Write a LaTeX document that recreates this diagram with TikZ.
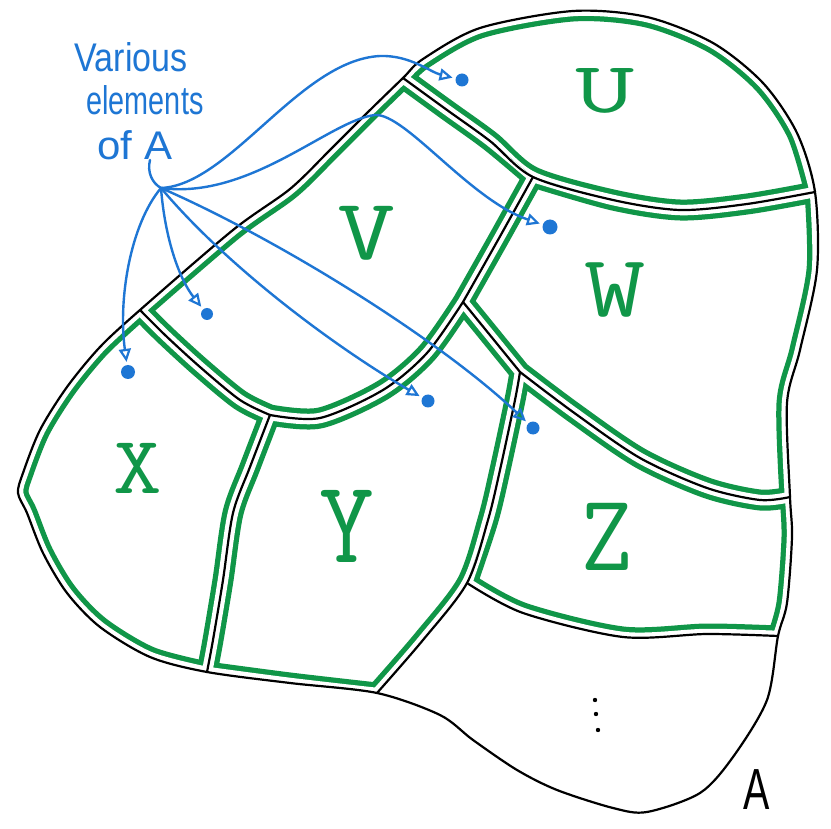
\documentclass[tikz,border=0pt]{standalone}
\usepackage{fontspec}
\newfontfamily\handfont{Liberation Sans}
\usetikzlibrary{arrows.meta}
\definecolor{mkgreen}{RGB}{16,150,72}
\definecolor{mkblue}{RGB}{30,118,212}
\begin{document}
\begin{tikzpicture}[x=1pt,y=-1pt,
  edge/.style={line width=2.2pt, black, line join=round, line cap=round},
  gband/.style={draw=mkgreen, line width=21pt, line join=round},
  wband/.style={draw=white, line width=10.5pt, line join=round},
  elem/.style={circle, fill=mkblue, inner sep=0pt, minimum size=13pt},
  arr/.style={mkblue, line width=2.4pt, -{Triangle[open, length=13pt, width=12pt, line width=2.2pt]}, shorten >=3pt},
  letter/.style={text=mkgreen, inner sep=0pt},
  hand/.style={text=mkblue, inner sep=0pt, font=\handfont\fontsize{40}{40}\selectfont},
]
\useasboundingbox (0,0) rectangle (831,829);
\fill[white] (0,0) rectangle (831,829);

% ---------- regions ----------
\def\regU{plot[smooth] coordinates {(403,78) (423,59) (480,28) (573,11) (647,17) (713,43) (763,83) (797,133) (815,192)}
  -- plot[smooth] coordinates {(815,192) (747,204) (680,210) (613,200) (533,177) (490,141) (447,110) (403,78)} -- cycle}
\def\regV{plot[smooth] coordinates {(140,310) (233,230) (290,189) (330,150) (367,113) (403,78)}
  -- plot[smooth] coordinates {(403,78) (447,110) (490,141) (533,177)}
  -- plot[smooth] coordinates {(533,177) (498,240) (463,302)}
  -- plot[smooth] coordinates {(463,302) (427,353) (383,390) (320,418) (270,415)}
  -- plot[smooth] coordinates {(270,415) (240,400) (200,367) (165,335) (140,310)} -- cycle}
\def\regW{plot[smooth] coordinates {(533,177) (613,200) (680,210) (747,204) (815,192)}
  -- plot[smooth] coordinates {(815,192) (817,270) (800,350) (787,403) (790,497)}
  -- plot[smooth] coordinates {(790,497) (760,500) (707,488) (640,458) (573,412) (520,372)}
  -- (463,302)
  -- plot[smooth] coordinates {(463,302) (498,240) (533,177)} -- cycle}
\def\regX{plot[smooth] coordinates {(140,310) (165,335) (200,367) (240,400) (270,415)}
  -- plot[smooth] coordinates {(270,415) (250,467) (233,513) (223,580) (213,640) (207,672)}
  -- plot[smooth] coordinates {(207,672) (150,657) (100,627) (67,593) (43,553) (27,513) (18,493) (23,473) (40,430) (67,387) (100,347) (140,310)} -- cycle}
\def\regY{plot[smooth] coordinates {(270,415) (320,418) (383,390) (427,353) (463,302)}
  -- (520,372)
  -- plot[smooth] coordinates {(520,372) (515,400) (500,470) (488,520) (467,583) (423,640) (377,693)}
  -- plot[smooth] coordinates {(377,693) (290,683) (207,672)}
  -- plot[smooth] coordinates {(207,672) (213,640) (223,580) (233,513) (250,467) (270,415)} -- cycle}
\def\regZ{plot[smooth] coordinates {(520,372) (573,412) (640,458) (707,488) (760,500) (790,497)}
  -- plot[smooth] coordinates {(790,497) (792,537) (787,603) (778,636)}
  -- plot[smooth] coordinates {(778,636) (707,634) (623,637) (523,613) (467,583)}
  -- plot[smooth] coordinates {(467,583) (488,520) (500,470) (515,400) (520,372)} -- cycle}

\begin{scope}\clip \regU; \draw[gband] \regU; \draw[wband] \regU; \end{scope}
\begin{scope}\clip \regV; \draw[gband] \regV; \draw[wband] \regV; \end{scope}
\begin{scope}\clip \regW; \draw[gband] \regW; \draw[wband] \regW; \end{scope}
\begin{scope}\clip \regX; \draw[gband] \regX; \draw[wband] \regX; \end{scope}
\begin{scope}\clip \regY; \draw[gband] \regY; \draw[wband] \regY; \end{scope}
\begin{scope}\clip \regZ; \draw[gband] \regZ; \draw[wband] \regZ; \end{scope}

% ---------- black boundary lines ----------
\draw[edge] plot[smooth cycle] coordinates {(140,310) (233,230) (290,189) (330,150) (367,113) (403,78)
  (423,59) (480,28) (573,11) (647,17) (713,43) (763,83) (797,133) (815,192)
  (817,270) (800,350) (787,403) (790,497) (792,537) (787,603) (778,636)
  (767,700) (733,757) (700,793) (647,812) (613,808) (557,790) (517,770) (473,740) (440,715) (377,693)
  (290,683) (207,672) (150,657) (100,627) (67,593) (43,553) (27,513) (18,493) (23,473) (40,430) (67,387) (100,347)};
\draw[edge] plot[smooth] coordinates {(403,78) (447,110) (490,141) (533,177) (613,200) (680,210) (747,204) (815,192)};
\draw[edge] plot[smooth] coordinates {(533,177) (498,240) (463,302)};
\draw[edge] plot[smooth] coordinates {(463,302) (427,353) (383,390) (320,418) (270,415)};
\draw[edge] plot[smooth] coordinates {(270,415) (240,400) (200,367) (165,335) (140,310)};
\draw[edge] (463,302) -- (520,372);
\draw[edge] plot[smooth] coordinates {(520,372) (573,412) (640,458) (707,488) (760,500) (790,497)};
\draw[edge] plot[smooth] coordinates {(520,372) (515,400) (500,470) (488,520) (467,583) (423,640) (377,693)};
\draw[edge] plot[smooth] coordinates {(467,583) (523,613) (623,637) (707,634) (778,636)};
\draw[edge] plot[smooth] coordinates {(270,415) (250,467) (233,513) (223,580) (213,640) (207,672)};

% ---------- region labels ----------
\node[letter] (U) at (605,91) {\ttfamily\fontsize{72}{72}\selectfont\scalebox{1.6}[1]{U}};
\node[letter] (V) at (367,233) {\ttfamily\fontsize{87}{87}\selectfont\scalebox{1.3}[1]{V}};
\node[letter] (W) at (615,290) {\ttfamily\fontsize{88}{88}\selectfont\scalebox{1.35}[1]{W}};
\node[letter] (X) at (138,468) {\ttfamily\fontsize{82}{82}\selectfont\scalebox{1.15}[1]{X}};
\node[letter] (Y) at (347,526) {\ttfamily\fontsize{118}{118}\selectfont\scalebox{0.9}[1]{Y}};
\node[letter] (Z) at (607,537) {\ttfamily\fontsize{110}{110}\selectfont\scalebox{0.9}[1]{Z}};

% ---------- dots (more elements) ----------
\fill (595,700) circle[radius=2.2pt];
\fill (596,714) circle[radius=2.2pt];
\fill (598,730) circle[radius=2.2pt];

% ---------- set label ----------
\node[inner sep=0pt, font=\handfont\fontsize{58}{58}\selectfont] (Alab) at (757,790) {\scalebox{0.68}[1]{A}};

% ---------- elements and annotation ----------
\node[elem] (dU) at (462,80) {};
\node[elem, minimum size=15pt] (dW) at (550,227) {};
\node[elem, minimum size=12pt] (dV) at (207,314) {};
\node[elem, minimum size=14pt] (dX) at (128,372) {};
\node[elem] (dY) at (428,401) {};
\node[elem] (dZ) at (533,428) {};

\node[hand] (t1) at (131,57) {\scalebox{.85}[1]{Various}};
\node[hand] (t2) at (145,100) {\scalebox{.72}[1]{elements}};
\node[hand] (t3) at (135,145) {\scalebox{1.05}[1]{of A}};
\coordinate (tail) at (150,160);
\coordinate (hub) at (161,188);
\draw[mkblue, line width=2.4pt, line cap=round] (tail) .. controls (147,172) and (152,183) .. (hub);

\draw[arr] (hub) .. controls (230,185) and (300,60) .. (380,56) .. controls (410,55) and (430,72) .. (dU);
\draw[arr] (hub) .. controls (250,200) and (330,120) .. (375,115) .. controls (405,113) and (470,200) .. (dW);
\draw[arr] (hub) .. controls (165,240) and (180,280) .. (dV);
\draw[arr] (hub) .. controls (130,225) and (118,300) .. (dX);
\draw[arr] (hub) .. controls (230,270) and (340,350) .. (dY);
\draw[arr] (hub) .. controls (280,240) and (440,340) .. (dZ);
\end{tikzpicture}
\end{document}
